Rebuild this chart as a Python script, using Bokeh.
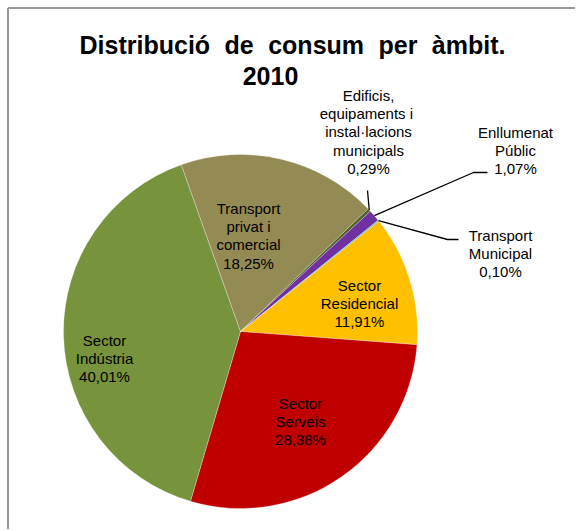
import numpy as np
from bokeh.plotting import figure
from bokeh.models import Range1d, ColumnDataSource
from bokeh.embed import file_html
from bokeh.resources import INLINE
from bokeh.core.properties import value

# ---------------- data ----------------
categories = ["Sector Residencial", "Sector Serveis", "Sector Indústria",
              "Transport privat i comercial",
              "Edificis, equipaments i instal·lacions municipals",
              "Enllumenat Públic", "Transport Municipal"]
shares = [11.91, 28.38, 40.01, 18.25, 0.29, 1.07, 0.10]
share_labels = ["11,91%", "28,38%", "40,01%", "18,25%", "0,29%", "1,07%", "0,10%"]
name_lines = [["Sector", "Residencial"], ["Sector", "Serveis"], ["Sector", "Indústria"],
              ["Transport", "privat i", "comercial"],
              ["Edificis,", "equipaments  i", "instal·lacions", "municipals"],
              ["Enllumenat", "Públic"], ["Transport", "Municipal"]]
colors = ["#FFC000", "#C00000", "#77933C", "#948A54", "#4F6228", "#7030A0", "#4BACC6"]
title_lines = ["Distribució de consum per àmbit.", "2010"]

# ---------------- layout ----------------
W, H = 575, 529
def P(X, Y):            # page px -> data coords
    return X, H - Y

CX, CY = P(240, 331)
R = 177
first_angle = 51.4       # degrees clockwise from 12 o'clock

# label anchors (page px): centre x, first line y
label_pos = [(359, 285), (300, 403), (104, 340), (248, 208),
             (368, 95), (515, 132), (500, 235)]
LINE = 18.2

p = figure(width=W, height=H, output_backend="svg", toolbar_location=None,
           x_range=Range1d(0, W), y_range=Range1d(0, H),
           x_axis_type=None, y_axis_type=None, min_border=0)
p.grid.visible = False
p.outline_line_color = None
p.background_fill_color = "white"
p.border_fill_color = "white"

# chart frame (top and left edges visible)
p.segment(x0=[7.5, 7.5], y0=[0, H - 7.5], x1=[7.5, W], y1=[H - 7.5, H - 7.5],
          line_color="#999999", line_width=2)

total = sum(shares)
fr = np.array(shares) / total
cw_start = first_angle + 360 * np.concatenate([[0], np.cumsum(fr)[:-1]])
cw_end = cw_start + 360 * fr
start = np.deg2rad(90 - cw_end)
end = np.deg2rad(90 - cw_start)
mid_cw = np.deg2rad((cw_start + cw_end) / 2)

src = ColumnDataSource(dict(start=start, end=end, color=colors, cat=categories))
p.wedge(x=CX, y=CY, radius=R, start_angle="start", end_angle="end",
        fill_color="color", line_color="white", line_width=0.4, line_alpha=0.7,
        source=src)

# leader lines for the small outer slices
edge = lambda i, rr=R: (CX + rr * np.sin(mid_cw[i]), CY + rr * np.cos(mid_cw[i]))
lx, ly = [], []
ex, ey = edge(4)
a = P(367, 190)
lx.append([a[0], ex]); ly.append([a[1], ey])
ex, ey = edge(5)
a, b = P(487, 172), P(473, 172)
lx.append([a[0], b[0], ex]); ly.append([a[1], b[1], ey])
ex, ey = edge(6)
a, b = P(458, 239), P(447, 239)
lx.append([a[0], b[0], ex]); ly.append([a[1], b[1], ey])
p.multi_line(xs=lx, ys=ly, line_color="black", line_width=1.3)

# data labels
tx, ty, tt = [], [], []
for i, (X, Y) in enumerate(label_pos):
    lines = name_lines[i] + [share_labels[i]]
    for k, s in enumerate(lines):
        x, y = P(X, Y + k * LINE)
        tx.append(x); ty.append(y); tt.append(s)
p.text(x=tx, y=ty, text=tt, text_align="center", text_baseline="middle",
       text_font=value("Liberation Sans"), text_font_size="15px", text_color="black")

# title: first line word by word (wider word spacing as in the original)
TS = 25
adv = {"D": 722, "i": 278, "s": 556, "t": 333, "r": 389, "b": 611, "u": 611,
       "c": 556, "ó": 611, "d": 611, "e": 556, "o": 611, "n": 611, "m": 889,
       "p": 611, "à": 556, ".": 278}
words = title_lines[0].split(" ")
wid = [sum(adv.get(ch, 600) for ch in w) * TS / 1000 for w in words]
gap = 278 * TS / 1000 + 7.5
tot = sum(wid) + gap * (len(words) - 1)
xw, x0 = [], 292 - tot / 2
for w_ in wid:
    xw.append(x0)
    x0 += w_ + gap
t1y = P(0, 44)[1]
t2 = P(270, 75)
p.text(x=xw, y=[t1y] * len(words), text=words,
       text_align="left", text_baseline="middle",
       text_font=value("Liberation Sans"), text_font_size=f"{TS}px",
       text_font_style="bold", text_color="black")
p.text(x=[t2[0]], y=[t2[1]], text=[title_lines[1]],
       text_align="center", text_baseline="middle",
       text_font=value("Liberation Sans"), text_font_size=f"{TS}px",
       text_font_style="bold", text_color="black")

open("out.html", "w").write(file_html(p, INLINE))
